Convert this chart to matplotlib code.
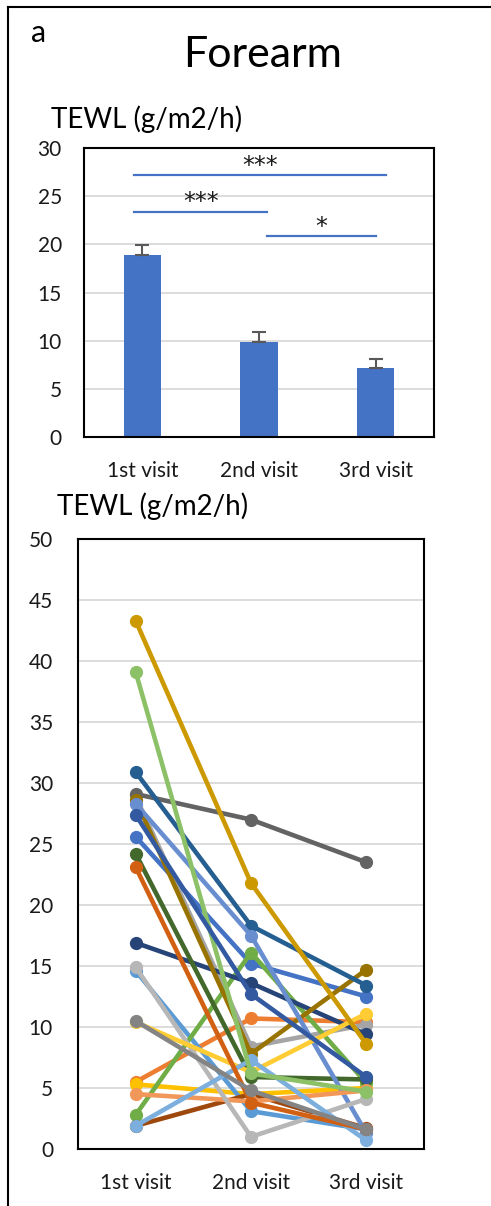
import matplotlib.pyplot as plt
from matplotlib.lines import Line2D

plt.rcParams["font.family"] = ["Lato", "DejaVu Sans"]

visits = ["1st visit", "2nd visit", "3rd visit"]

# group means and upper error (g/m2/h)
mean_tewl = [18.9, 9.9, 7.15]
err_tewl = [1.0, 1.0, 0.95]

# significance brackets: (x start, x end, y, stars)
sig_x0 = [-0.07, -0.07, 1.07]
sig_x1 = [2.09, 1.07, 2.0]
sig_y = [27.2, 23.4, 20.9]
sig_text = ["***", "***", "*"]

# individual subjects, one value per visit
subject_1st = [25.6, 5.5, 28.9, 5.3, 14.6, 2.8, 16.9, 1.9, 29.1, 28.6, 30.9,
               24.2, 28.3, 4.5, 14.9, 10.4, 1.9, 39.1, 27.4, 23.1, 10.5, 43.3]
subject_2nd = [15.2, 10.7, 8.4, 4.5, 3.1, 16.1, 13.6, 4.5, 27.0, 7.8, 18.3,
               5.9, 17.5, 3.9, 1.0, 6.3, 7.3, 6.2, 12.7, 3.8, 4.8, 21.8]
subject_3rd = [12.5, 10.4, 10.2, 5.0, 1.6, 5.4, 9.4, 1.7, 23.5, 14.7, 13.4,
               5.7, 1.3, 4.8, 4.1, 11.1, 0.7, 4.7, 5.9, 1.6, 1.6, 8.6]

line_colors = [
    "#4472C4", "#ED7D31", "#A5A5A5", "#FFC000", "#5B9BD5", "#70AD47",
    "#264478", "#9E480E", "#636363", "#997300", "#255E91", "#43682B",
    "#698ED0", "#F1975A", "#B7B7B7", "#FFCD33", "#7CAFDD", "#8CC168",
    "#335AA1", "#D26012", "#848484", "#CC9A00",
]

W, H = 491, 1206


def style_axes(ax, ymax, ypad):
    ax.set_xlim(-0.5, 2.5)
    ax.set_ylim(0, ymax)
    ax.set_yticks(range(0, ymax + 1, 5))
    ax.set_xticks(range(3))
    ax.set_xticklabels(visits)
    ax.tick_params(length=0, labelsize=15, colors="#1a1a1a")
    ax.tick_params(axis="y", pad=ypad)
    ax.tick_params(axis="x", pad=17)
    ax.yaxis.grid(True, color="#D9D9D9", linewidth=1.3)
    ax.set_axisbelow(True)
    for s in ax.spines.values():
        s.set_linewidth(1.5)
        s.set_color("black")


fig = plt.figure(figsize=(W / 100, H / 100), dpi=100)

# panel border (left and top edges)
fig.add_artist(Line2D([8 / W, 8 / W], [0, 1 - 7 / H], transform=fig.transFigure,
                      color="black", linewidth=1.5))
fig.add_artist(Line2D([8 / W, 1], [1 - 7 / H, 1 - 7 / H], transform=fig.transFigure,
                      color="black", linewidth=1.5))

fig.text(31 / W, 1 - 42 / H, "a", fontsize=22, va="baseline")
fig.text(263 / W, 1 - 67 / H, "Forearm", fontsize=31, ha="center", va="baseline")

# bar chart of means
ax1 = fig.add_axes([84 / W, 1 - 437 / H, 350 / W, 289 / H])
ax1.bar(range(3), mean_tewl, width=0.32, color="#4472C4", zorder=2)
ax1.errorbar(range(3), mean_tewl, yerr=[[0, 0, 0], err_tewl], fmt="none",
             ecolor="#595959", elinewidth=1.5, capsize=5, capthick=1.5, zorder=3)
for x0, x1, y, t in zip(sig_x0, sig_x1, sig_y, sig_text):
    ax1.plot([x0, x1], [y, y], color="#4472C4", linewidth=1.6, zorder=3)
    ax1.text((x0 + x1) / 2, y + 0.95, t, ha="center", va="center",
             fontsize=17, family="DejaVu Sans", color="#1a1a1a")
style_axes(ax1, 30, 16)
fig.text(51 / W, 1 - 128 / H, "TEWL (g/m2/h)", fontsize=20, va="baseline")

# individual subject trajectories
ax2 = fig.add_axes([78 / W, 1 - 1149 / H, 346 / W, 610 / H])
for i, c in enumerate(line_colors):
    ax2.plot(range(3), [subject_1st[i], subject_2nd[i], subject_3rd[i]],
             color=c, linewidth=3.3, marker="o", markersize=8.5,
             zorder=2 + i * 0.01, clip_on=False)
style_axes(ax2, 50, 18)
fig.text(57 / W, 1 - 515 / H, "TEWL (g/m2/h)", fontsize=20, va="baseline")

fig.savefig("out.png", dpi=100)
